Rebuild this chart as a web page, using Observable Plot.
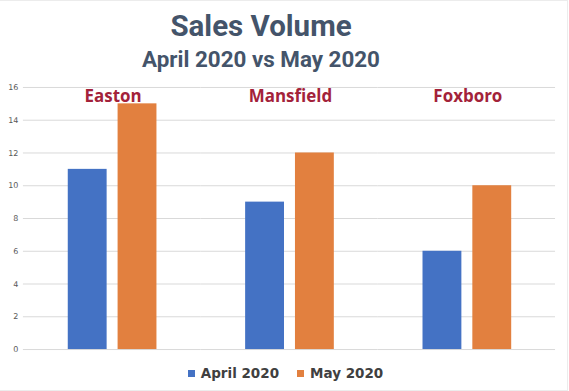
<!DOCTYPE html>
<html>
<head>
<meta charset="utf-8">
<script src="https://cdn.jsdelivr.net/npm/d3@7"></script>
<script src="https://cdn.jsdelivr.net/npm/@observablehq/plot@0.6"></script>
<style>
  html, body { margin: 0; padding: 0; background: #fff; }
  #frame { position: relative; width: 567px; height: 389px; border: 1px solid #ececec; border-left: none; overflow: hidden; background: #fff; }
  #title { position: absolute; left: 0; width: 522px; top: 10px; text-align: center; font-family: Roboto, sans-serif; font-weight: 700; font-size: 29.5px; line-height: 30px; color: #44546a; }
  #subtitle { position: absolute; left: 0; width: 522px; top: 47px; text-align: center; font-family: Roboto, sans-serif; font-weight: 700; font-size: 22.4px; line-height: 23px; color: #44546a; }
  #chart { position: absolute; left: 0; top: 76px; }
  #legend { position: absolute; left: 0; width: 571px; top: 363px; display: flex; justify-content: center; align-items: center; font-family: "DejaVu Sans", sans-serif; font-weight: 700; font-size: 13.5px; line-height: 18px; color: #404040; }
  .item { display: flex; align-items: center; margin: 0 9px; }
  .sw { width: 7px; height: 7px; margin-right: 6px; }
</style>
</head>
<body>
<div id="frame">
  <div id="title"></div>
  <div id="subtitle"></div>
  <div id="chart"></div>
  <div id="legend"></div>
</div>
<script>
const titleText = "Sales Volume";
const subtitleText = "April 2020 vs May 2020";
const cities = ["Easton", "Mansfield", "Foxboro"];
const months = ["April 2020", "May 2020"];
const april = [11, 9, 6];
const may = [15, 12, 10];
const yTicks = [0, 2, 4, 6, 8, 10, 12, 14, 16];
const colors = ["#4472c4", "#e2803f"];

document.getElementById("title").textContent = titleText;
document.getElementById("subtitle").textContent = subtitleText;

const rows = [];
cities.forEach((c, i) => {
  rows.push({city: c, month: months[0], value: april[i]});
  rows.push({city: c, month: months[1], value: may[i]});
});

const plot = Plot.plot({
  width: 569,
  height: 280,
  marginLeft: 22,
  marginRight: 11,
  marginTop: 10,
  marginBottom: 7,
  fx: {domain: cities, padding: 0, axis: null},
  x: {domain: months, paddingInner: 0.22, paddingOuter: 0.86, axis: null},
  y: {domain: [0, 16], ticks: yTicks},
  color: {domain: months, range: colors},
  marks: [
    Plot.ruleY(yTicks, {stroke: "#d9d9d9", strokeWidth: 1}),
    Plot.axisY({ticks: yTicks, tickSize: 0, tickPadding: 5, fontSize: 8, fill: "#595959", fontFamily: "DejaVu Sans, sans-serif", label: null}),
    Plot.barY(rows, {fx: "city", x: "month", y: "value", fill: "month"}),
    Plot.text(cities, {fx: d => d, text: d => d, frameAnchor: "top", lineAnchor: "middle", dy: 9, dx: 1, fill: "#a3223a", fontSize: 17, fontWeight: 700, fontFamily: "Open Sans, sans-serif"})
  ]
});
document.getElementById("chart").appendChild(plot);

const legend = document.getElementById("legend");
months.forEach((m, i) => {
  const item = document.createElement("div");
  item.className = "item";
  const sw = document.createElement("div");
  sw.className = "sw";
  sw.style.background = colors[i];
  const t = document.createElement("span");
  t.textContent = m;
  item.appendChild(sw);
  item.appendChild(t);
  legend.appendChild(item);
});
</script>
</body>
</html>
